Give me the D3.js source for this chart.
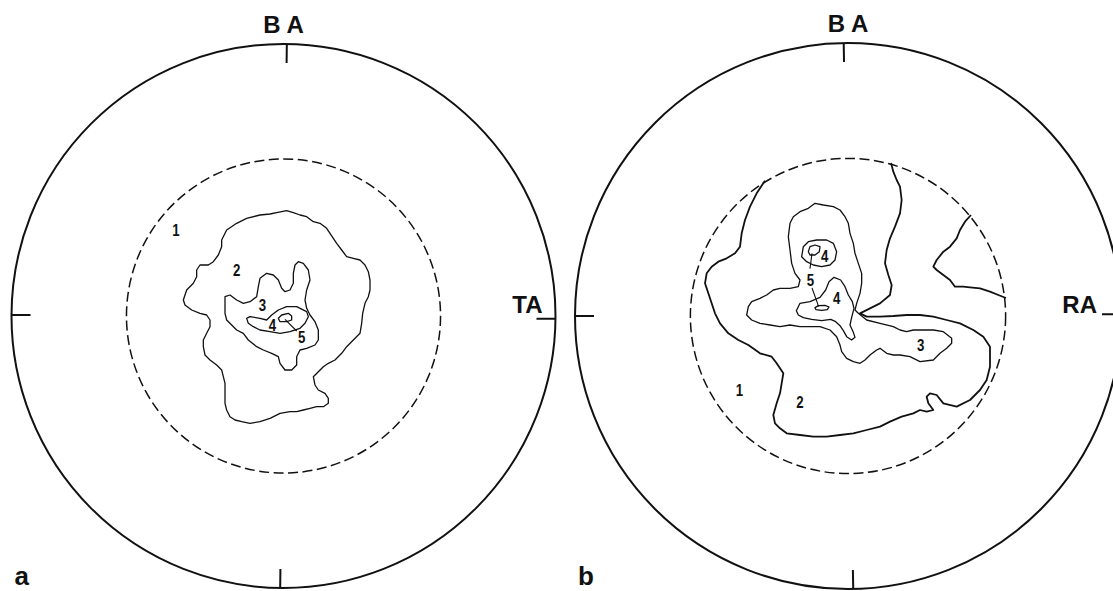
<!DOCTYPE html>
<html>
<head>
<meta charset="utf-8">
<script src="https://cdn.jsdelivr.net/npm/d3@7"></script>
<style>
  html, body { margin: 0; padding: 0; background: #fff; }
  svg { display: block; }
  .axis-label { font-family: "Liberation Sans", Arial, sans-serif; font-weight: bold; }
  .panel-tag { font-family: "Liberation Sans", Arial, sans-serif; font-weight: bold; }
  .level { font-family: "Liberation Sans", Arial, sans-serif; font-weight: bold; }
</style>
</head>
<body>
<svg id="chart" width="1113" height="591"></svg>
<script>
// Each net has its own tablet origin; the pole of the net and the
// primitive-circle radius are given in the same units.

// ---------- net a ----------
const poleA = [370.5, 378];
const primitiveA = 816;

const contourA2 = [[185,150],[200,120],[230,100],[260,85],[300,75],[330,72],[350,68],[380,62],[400,68],[420,75],[440,80],[460,95],[480,100],[500,115],[510,130],[520,145],[530,160],[545,180],[560,200],[580,205],[600,210],[615,225],[625,245],[630,270],[630,300],[625,320],[615,340],[608,370],[605,400],[600,430],[580,450],[560,470],[545,490],[525,510],[505,520],[490,530],[475,545],[460,560],[465,585],[475,600],[495,610],[505,625],[505,640],[490,650],[470,650],[450,655],[430,660],[410,665],[390,665],[360,670],[330,685],[300,695],[270,700],[245,695],[225,690],[210,680],[200,660],[195,640],[195,610],[195,580],[190,560],[185,540],[170,525],[150,510],[135,495],[130,470],[130,450],[140,430],[150,410],[150,390],[140,375],[120,370],[95,360],[75,345],[70,330],[80,300],[100,280],[110,260],[110,240],[120,225],[145,225],[160,215],[175,195],[185,170]];

const contourA3 = [[195,320],[210,315],[230,330],[250,340],[270,335],[290,320],[295,290],[300,265],[320,250],[340,255],[355,270],[365,295],[375,305],[390,300],[400,280],[400,250],[405,225],[415,215],[430,220],[445,240],[450,270],[440,300],[435,330],[440,355],[450,375],[465,395],[475,420],[475,450],[465,465],[440,475],[420,480],[410,500],[410,525],[395,540],[375,540],[360,520],[355,500],[335,490],[310,480],[290,470],[265,450],[250,430],[230,420],[215,405],[200,390],[195,370],[195,340]];

const contourA4 = [[260,385],[270,380],[300,385],[320,390],[335,375],[355,360],[380,350],[410,350],[440,365],[445,380],[435,400],[420,415],[390,425],[360,430],[330,425],[300,420],[280,410],[265,400]];

const contourA5 = [[355,385],[365,375],[385,370],[395,378],[395,390],[380,395],[360,395]];

const leadersA = [[[375,388],[410,423]]];

const levelLabelsA = [
  { text: "1", at: [48,120] },
  { text: "2", at: [230,240] },
  { text: "3", at: [307,345] },
  { text: "4", at: [337,405] },
  { text: "5", at: [425,440] }
];

// ---------- net b ----------
const poleB = [504, 408];
const primitiveB = 819;

// level-2 boundary, open at both ends on the 60° circle
const contourB2 = [[255,2],[230,40],[210,80],[195,120],[185,160],[180,200],[165,220],[140,235],[115,245],[95,260],[80,280],[75,310],[85,340],[95,370],[105,400],[120,430],[145,460],[175,480],[205,495],[240,520],[275,530],[290,550],[310,580],[305,610],[300,640],[290,670],[280,705],[285,730],[300,745],[320,760],[360,765],[400,770],[440,770],[480,765],[520,760],[560,750],[600,740],[630,725],[665,710],[700,700],[720,690],[740,695],[760,690],[745,670],[740,650],[750,640],[770,645],[790,670],[830,680],[870,660],[900,630],[920,600],[930,560],[930,500],[910,470],[880,450],[840,430],[800,420],[760,410],[720,405],[680,405],[640,408],[600,410],[560,410],[540,400],[570,385],[600,370],[630,345],[635,315],[625,285],[615,250],[620,210],[630,175],[645,140],[660,100],[665,60],[660,20],[650,0],[640,-25],[633,-51]];

// level-2 boundary cutting off the right-hand sector
const contourB2r = [[873,105],[855,125],[840,150],[830,175],[810,200],[790,215],[770,240],[760,260],[770,270],[790,285],[810,300],[825,320],[850,320],[870,322],[900,325],[930,335],[955,345],[978,354]];

const contourB3 = [[205,380],[215,365],[240,355],[260,345],[280,330],[300,325],[330,325],[355,320],[360,300],[345,280],[335,250],[330,210],[325,170],[330,130],[340,110],[360,95],[385,85],[405,70],[430,75],[460,80],[480,90],[495,110],[505,130],[510,160],[520,190],[525,220],[535,250],[545,280],[545,310],[540,340],[530,370],[525,390],[535,400],[560,420],[600,430],[640,440],[660,450],[680,455],[700,450],[730,450],[760,450],[790,455],[815,475],[815,490],[800,505],[780,520],[760,540],[720,545],[690,530],[660,525],[640,525],[620,520],[600,505],[590,510],[570,525],[555,540],[540,550],[520,545],[500,535],[485,515],[480,495],[470,470],[450,450],[420,440],[390,440],[360,440],[330,435],[300,440],[270,435],[240,430],[215,420],[200,405]];

const contourB4top = [[365,230],[370,200],[385,185],[410,180],[440,180],[460,190],[470,215],[465,240],[450,255],[425,260],[400,255],[380,245]];

const contourB5top = [[385,215],[390,200],[405,195],[420,200],[418,215],[405,225],[390,225]];

const contourB4low = [[349,392],[360,370],[390,365],[420,352],[437,330],[447,305],[462,292],[482,300],[495,320],[505,345],[517,365],[522,385],[515,412],[510,435],[520,457],[525,472],[515,480],[500,470],[490,452],[480,437],[467,425],[452,418],[425,422],[395,418],[370,413],[355,405]];

const contourB5low = [[405,383],[415,377],[435,376],[447,381],[442,389],[425,391],[408,389]];

const leadersB = [[[396,220],[390,266]], [[396,324],[416,380]]];

const levelLabelsB = [
  { text: "4", at: [434,227] },
  { text: "5", at: [391,300] },
  { text: "4", at: [470,355] },
  { text: "3", at: [722,495] },
  { text: "1", at: [178,630] },
  { text: "2", at: [360,665] }
];

// Dashed reference circle: 60° from the pole in stereographic projection
const refAngle = 60;

const nets = [
  {
    pole: poleA, R: primitiveA,
    cx: 283.5, cy: 316, r: 272,
    tickAngles: [0.7, 90.6, 180.7, 270.2],
    top: "B A", side: "TA", sideGap: 13, tag: "a",
    lines: [],
    rings: [contourA2, contourA3, contourA4, contourA5],
    leaders: leadersA, labels: levelLabelsA
  },
  {
    pole: poleB, R: primitiveB,
    cx: 848, cy: 316, r: 273,
    tickAngles: [-0.9, 89.6, 178.9, 270],
    top: "B A", side: "RA", sideGap: 24, tag: "b",
    lines: [contourB2, contourB2r],
    rings: [contourB3, contourB4top, contourB5top, contourB4low, contourB5low],
    leaders: leadersB, labels: levelLabelsB
  }
];

const svg = d3.select("#chart");
const ink = "#111";

nets.forEach(net => {
  const x = d3.scaleLinear()
    .domain([net.pole[0] - net.R, net.pole[0] + net.R])
    .range([net.cx - net.r, net.cx + net.r]);
  const y = d3.scaleLinear()
    .domain([net.pole[1] - net.R, net.pole[1] + net.R])
    .range([net.cy - net.r, net.cy + net.r]);

  const g = svg.append("g").attr("class", "net net-" + net.tag);
  const px = x(net.pole[0]), py = y(net.pole[1]);
  const rad = x(net.pole[0] + net.R) - px;

  // primitive circle
  g.append("circle")
    .attr("cx", px).attr("cy", py).attr("r", rad)
    .attr("fill", "none").attr("stroke", ink).attr("stroke-width", 2);

  // 60° reference circle
  const refR = net.R * Math.tan((refAngle / 2) * Math.PI / 180);
  g.append("circle")
    .attr("cx", px).attr("cy", py).attr("r", x(net.pole[0] + refR) - px)
    .attr("fill", "none").attr("stroke", ink).attr("stroke-width", 1.5)
    .attr("stroke-dasharray", "10,4.5");

  // cardinal ticks
  const tickLen = 19;
  g.selectAll("line.tick").data(net.tickAngles).join("line")
    .attr("class", "tick")
    .attr("x1", d => px + rad * Math.sin(d * Math.PI / 180))
    .attr("y1", d => py - rad * Math.cos(d * Math.PI / 180))
    .attr("x2", d => px + (rad - tickLen) * Math.sin(d * Math.PI / 180))
    .attr("y2", d => py - (rad - tickLen) * Math.cos(d * Math.PI / 180))
    .attr("stroke", ink).attr("stroke-width", 2);

  // axis labels
  g.append("text").attr("class", "axis-label")
    .attr("x", px).attr("y", py - rad - 11)
    .attr("text-anchor", "middle").attr("font-size", 24).attr("fill", ink)
    .text(net.top);
  g.append("text").attr("class", "axis-label")
    .attr("x", px + rad - net.sideGap).attr("y", py - 3)
    .attr("text-anchor", "end").attr("font-size", 24).attr("fill", ink)
    .text(net.side);

  // panel tag
  g.append("text").attr("class", "panel-tag")
    .attr("x", net.cx - net.r + 3).attr("y", 585)
    .attr("font-size", 26).attr("fill", ink)
    .text(net.tag);

  const open = d3.line().x(d => x(d[0])).y(d => y(d[1])).curve(d3.curveLinear);
  const closed = d3.line().x(d => x(d[0])).y(d => y(d[1])).curve(d3.curveLinearClosed);

  g.selectAll("path.open").data(net.lines).join("path")
    .attr("class", "open")
    .attr("d", open)
    .attr("fill", "none").attr("stroke", ink)
    .attr("stroke-width", 1.8).attr("stroke-linejoin", "round");

  g.selectAll("path.ring").data(net.rings).join("path")
    .attr("class", "ring")
    .attr("d", closed)
    .attr("fill", "none").attr("stroke", ink)
    .attr("stroke-width", 1.3).attr("stroke-linejoin", "round");

  g.selectAll("path.leader").data(net.leaders).join("path")
    .attr("class", "leader")
    .attr("d", open)
    .attr("fill", "none").attr("stroke", ink).attr("stroke-width", 1.1);

  // contour level numbers, set in a narrow bold face
  g.selectAll("text.level").data(net.labels).join("text")
    .attr("class", "level")
    .attr("transform", d => `translate(${x(d.at[0])},${y(d.at[1])}) scale(0.78,1)`)
    .attr("dy", "0.36em")
    .attr("text-anchor", "middle").attr("font-size", 17).attr("fill", ink)
    .text(d => d.text);
});
</script>
</body>
</html>
